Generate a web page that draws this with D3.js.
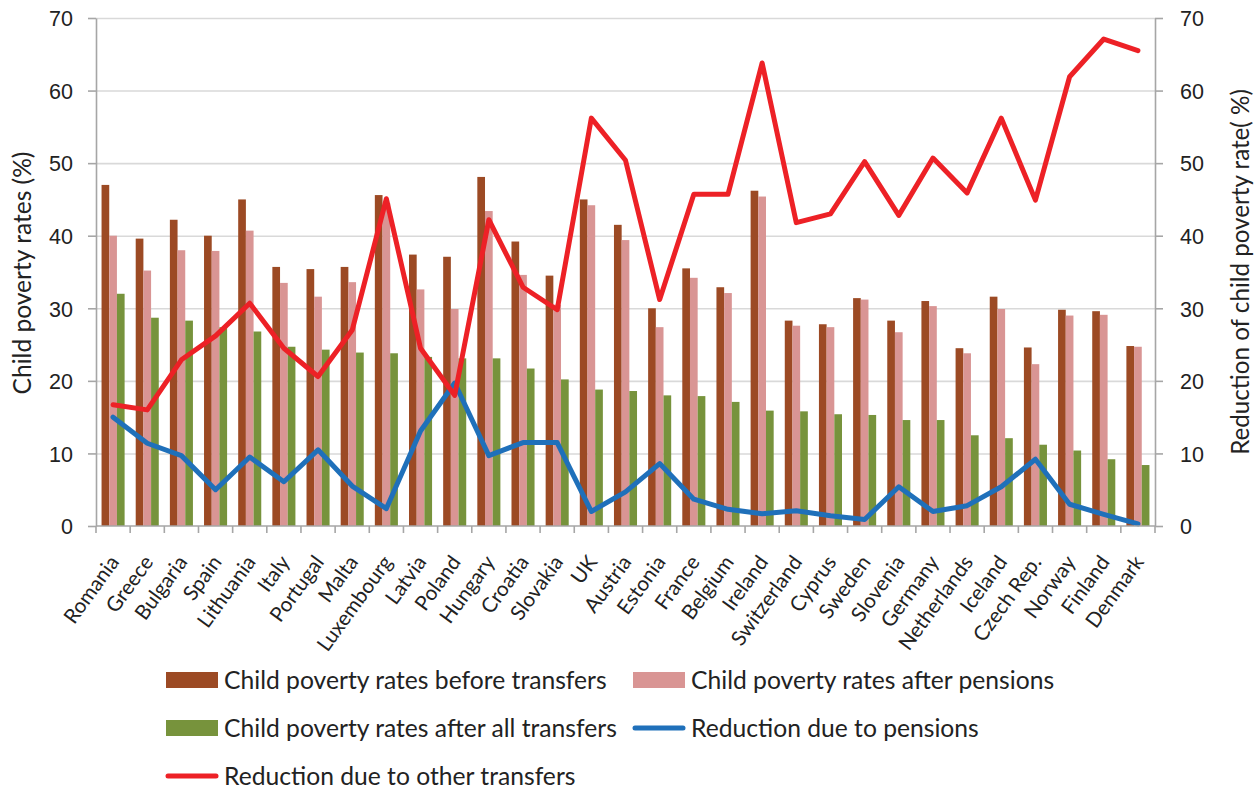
<!DOCTYPE html>
<html>
<head>
<meta charset="utf-8">
<script src="https://cdn.jsdelivr.net/npm/d3@7"></script>
<style>
  body { margin: 0; background: #ffffff; }
  svg { display: block; font-family: Lato, "Noto Sans", sans-serif; }
</style>
</head>
<body>
<svg id="chart" width="1256" height="791"></svg>
<script>
// Child poverty rates by country, before and after social transfers
const countries = ["Romania","Greece","Bulgaria","Spain","Lithuania","Italy","Portugal","Malta",
  "Luxembourg","Latvia","Poland","Hungary","Croatia","Slovakia","UK","Austria","Estonia","France",
  "Belgium","Ireland","Switzerland","Cyprus","Sweden","Slovenia","Germany","Netherlands","Iceland",
  "Czech Rep.","Norway","Finland","Denmark"];

const beforeTransfers = [47.0,39.6,42.2,40.0,45.0,35.7,35.4,35.7,45.6,37.4,37.1,48.1,39.2,34.5,45.0,41.5,
  30.0,35.5,32.9,46.2,28.3,27.8,31.4,28.3,31.0,24.5,31.6,24.6,29.8,29.6,24.8];
const afterPensions = [40.0,35.2,38.0,37.9,40.7,33.5,31.6,33.6,44.5,32.6,29.9,43.4,34.6,30.5,44.2,39.4,
  27.4,34.2,32.1,45.4,27.6,27.4,31.2,26.7,30.3,23.8,29.9,22.3,29.0,29.1,24.7];
const afterAllTransfers = [32.0,28.7,28.3,27.4,26.8,24.7,24.3,23.9,23.8,23.3,23.1,23.1,21.7,20.2,18.8,18.6,
  18.0,17.9,17.1,15.9,15.8,15.4,15.3,14.6,14.6,12.5,12.1,11.2,10.4,9.2,8.4];
const reductionPensions = [15.0,11.4,9.7,5.0,9.5,6.1,10.5,5.5,2.4,13.1,19.7,9.7,11.5,11.5,2.0,4.7,
  8.6,3.7,2.3,1.7,2.1,1.4,0.9,5.4,2.0,2.8,5.4,9.2,3.0,1.6,0.3];
const reductionOther = [16.7,16.0,22.9,26.2,30.7,24.5,20.6,27.0,45.1,24.5,18.0,42.2,32.9,29.8,56.2,50.4,
  31.2,45.7,45.7,63.8,41.8,43.0,50.2,42.8,50.7,45.9,56.2,44.9,61.9,67.1,65.5];

const leftTicks = [0,10,20,30,40,50,60,70];
const rightTicks = [0,10,20,30,40,50,60,70];

const barSeries = [
  {name: "Child poverty rates before transfers", values: beforeTransfers, color: "#9c4a24"},
  {name: "Child poverty rates after pensions", values: afterPensions, color: "#d99594"},
  {name: "Child poverty rates after all transfers", values: afterAllTransfers, color: "#77933c"}
];
const lineSeries = [
  {name: "Reduction due to pensions", values: reductionPensions, color: "#1f70ba"},
  {name: "Reduction due to other transfers", values: reductionOther, color: "#ed2126"}
];

const svg = d3.select("#chart");
const plotLeft = 96, plotRight = 1155, plotTop = 18, plotBottom = 526;

// scale a text's font so that its rendered length equals the wanted length
function fitSize(sel, wanted) {
  const base = parseFloat(sel.style("font-size"));
  const len = sel.node().getComputedTextLength();
  return base * wanted / len;
}

const x = d3.scaleBand().domain(countries).range([plotLeft, plotRight]).padding(0);
const bw = x.bandwidth();
const groupW = bw * 0.675;
const xs = d3.scaleBand().domain(barSeries.map(s => s.name))
  .range([(bw - groupW) / 2, (bw + groupW) / 2]).padding(0);
const y = d3.scaleLinear().domain([0, 70]).range([plotBottom, plotTop]);
const y2 = d3.scaleLinear().domain([0, 70]).range([plotBottom, plotTop]);

const gridColor = "#d9d9d9", axisColor = "#a6a6a6", textColor = "#222222";

// horizontal gridlines
svg.append("g")
  .attr("transform", `translate(${plotLeft},0)`)
  .call(d3.axisLeft(y).tickValues(leftTicks.filter(d => d > 0)).tickSize(-(plotRight - plotLeft)).tickFormat(""))
  .call(g => g.select(".domain").remove())
  .call(g => g.selectAll("line").attr("stroke", gridColor).attr("stroke-width", 1.6));

// bars
const groups = svg.append("g").selectAll("g")
  .data(countries).join("g")
  .attr("transform", d => `translate(${x(d)},0)`);
barSeries.forEach(s => {
  groups.append("rect")
    .attr("x", xs(s.name))
    .attr("width", xs.bandwidth())
    .attr("y", (d, i) => y(s.values[i]))
    .attr("height", (d, i) => plotBottom - y(s.values[i]))
    .attr("fill", s.color);
});

// reduction lines on the secondary axis
lineSeries.forEach(s => {
  const line = d3.line()
    .x((d, i) => x(countries[i]) + bw / 2)
    .y(d => y2(d));
  svg.append("path")
    .datum(s.values)
    .attr("d", line)
    .attr("fill", "none")
    .attr("stroke", s.color)
    .attr("stroke-width", 5)
    .attr("stroke-linejoin", "round")
    .attr("stroke-linecap", "round");
});

// left axis
svg.append("g")
  .attr("transform", `translate(${plotLeft},0)`)
  .call(d3.axisLeft(y).tickValues(leftTicks).tickSize(8).tickPadding(15).tickSizeOuter(0))
  .call(g => g.select(".domain").attr("stroke", axisColor).attr("stroke-width", 1.6))
  .call(g => g.selectAll(".tick line").attr("stroke", axisColor).attr("stroke-width", 1.6))
  .call(g => g.selectAll("text").attr("fill", textColor).style("font-size", "21.5px")
    .attr("dy", "0.36em"));

// right axis
svg.append("g")
  .attr("transform", `translate(${plotRight},0)`)
  .call(d3.axisRight(y2).tickValues(rightTicks).tickSize(8).tickPadding(17).tickSizeOuter(0))
  .call(g => g.select(".domain").attr("stroke", axisColor).attr("stroke-width", 1.6))
  .call(g => g.selectAll(".tick line").attr("stroke", axisColor).attr("stroke-width", 1.6))
  .call(g => g.selectAll("text").attr("fill", textColor).style("font-size", "21.5px")
    .attr("dy", "0.36em"));

// category axis: baseline, boundary ticks and rotated labels
const xAxis = svg.append("g");
xAxis.append("line")
  .attr("x1", plotLeft).attr("x2", plotRight).attr("y1", plotBottom).attr("y2", plotBottom)
  .attr("stroke", axisColor).attr("stroke-width", 1.6);
xAxis.selectAll("line.tk")
  .data(countries.map(c => x(c)).concat([plotRight]))
  .join("line").attr("class", "tk")
  .attr("x1", d => d).attr("x2", d => d)
  .attr("y1", plotBottom).attr("y2", plotBottom + 7)
  .attr("stroke", axisColor).attr("stroke-width", 1.6);
const catLabels = xAxis.selectAll("text")
  .data(countries)
  .join("text")
  .attr("transform", d => `translate(${x(d) + bw / 2 + 1},${plotBottom + 32}) rotate(-54)`)
  .attr("text-anchor", "end")
  .attr("dy", "0.35em")
  .attr("fill", textColor)
  .style("font-size", "17px")
  .text(d => d);
const catSize = fitSize(catLabels.filter(d => d === "Luxembourg"), 112);
catLabels.style("font-size", catSize + "px");

// axis titles
const leftTitle = svg.append("text")
  .attr("transform", `translate(22,273) rotate(-90)`)
  .attr("text-anchor", "middle")
  .attr("dy", "0.35em")
  .attr("fill", textColor)
  .style("font-size", "20px")
  .text("Child poverty rates (%)");
leftTitle.style("font-size", fitSize(leftTitle, 243) + "px");
const rightTitle = svg.append("text")
  .attr("transform", `translate(1241,272) rotate(-90)`)
  .attr("text-anchor", "middle")
  .attr("dy", "0.35em")
  .attr("fill", textColor)
  .style("font-size", "20px")
  .text("Reduction of child poverty rate( %)");
rightTitle.style("font-size", fitSize(rightTitle, 366) + "px");

// legend
const legendItems = [
  {s: barSeries[0], type: "bar", lx: 166, ly: 680},
  {s: barSeries[1], type: "bar", lx: 633, ly: 680},
  {s: barSeries[2], type: "bar", lx: 166, ly: 728},
  {s: lineSeries[0], type: "line", lx: 633, ly: 728},
  {s: lineSeries[1], type: "line", lx: 166, ly: 776}
];
const legend = svg.append("g");
const legendTexts = [];
legendItems.forEach(it => {
  if (it.type === "bar") {
    legend.append("rect")
      .attr("x", it.lx).attr("y", it.ly - 8).attr("width", 52).attr("height", 16)
      .attr("fill", it.s.color);
  } else {
    legend.append("line")
      .attr("x1", it.lx + 2).attr("x2", it.lx + 50).attr("y1", it.ly).attr("y2", it.ly)
      .attr("stroke", it.s.color).attr("stroke-width", 5).attr("stroke-linecap", "round");
  }
  legendTexts.push(legend.append("text")
    .attr("x", it.lx + 58).attr("y", it.ly)
    .attr("dy", "0.35em")
    .attr("fill", textColor)
    .style("font-size", "21px")
    .text(it.s.name));
});
const legendSize = fitSize(legendTexts[0], 383);
legendTexts.forEach(t => t.style("font-size", legendSize + "px"));
</script>
</body>
</html>
